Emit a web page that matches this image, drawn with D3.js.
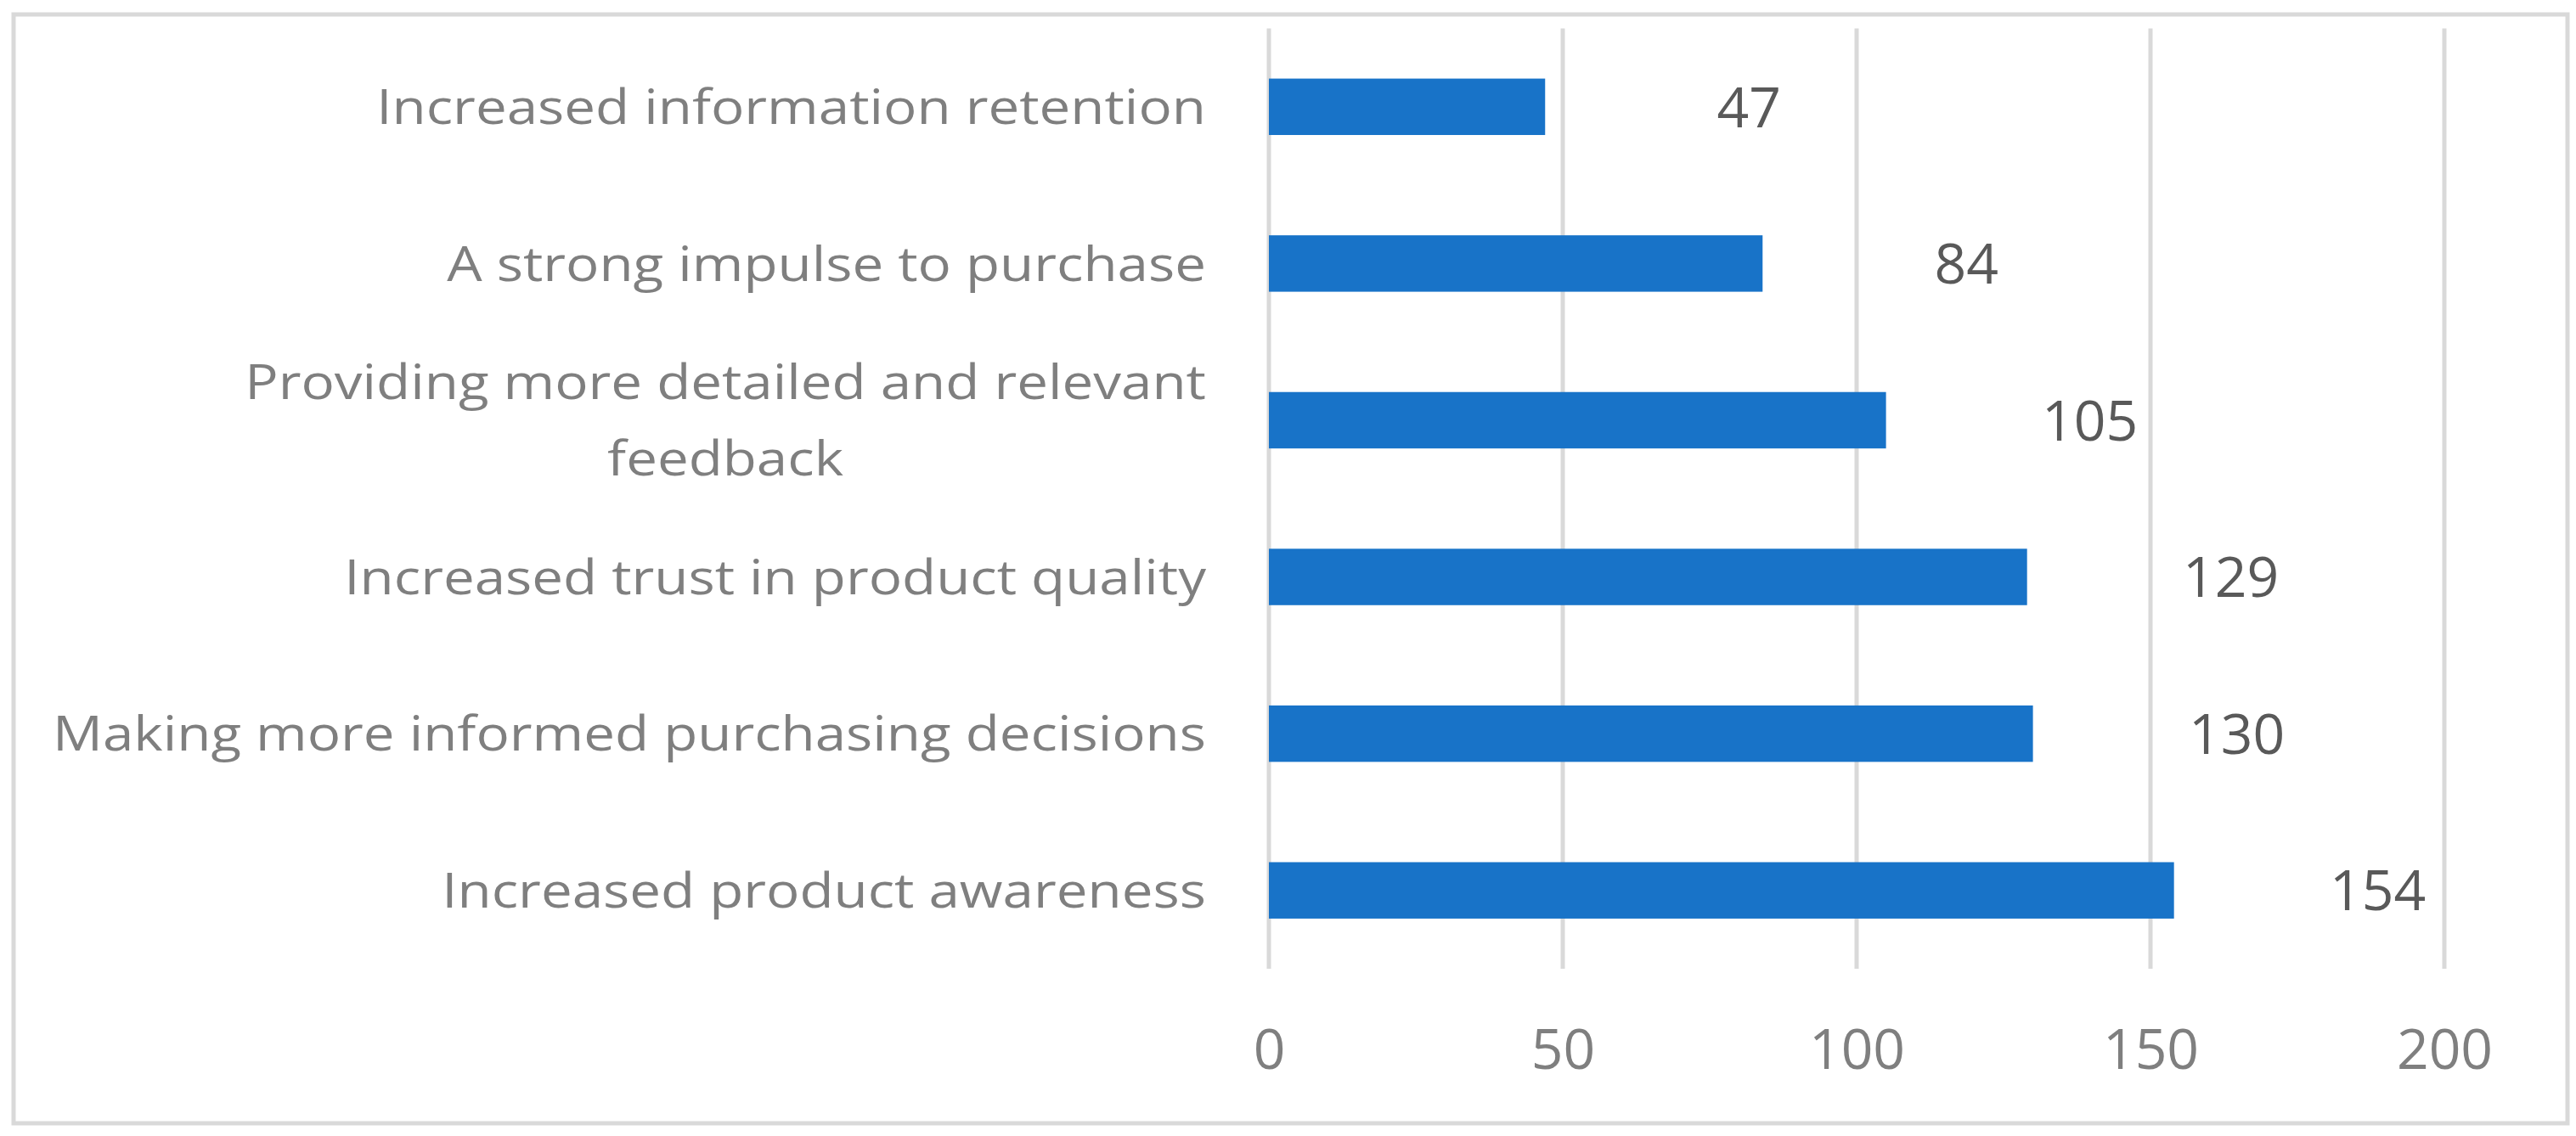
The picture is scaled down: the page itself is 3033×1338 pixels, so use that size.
<!DOCTYPE html>
<html lang="en">
<head>
    <meta charset="UTF-8">
    <title>Chart</title>
    <script src="https://d3js.org/d3.v7.min.js"></script>
    <style>
        body { margin: 0; background: #fff; }
    </style>
</head>
<body>
    <script>
        // data, top row first
        let categories = ["Increased information retention",
                          "A strong impulse to purchase",
                          "Providing more detailed and relevant feedback",
                          "Increased trust in product quality",
                          "Making more informed purchasing decisions",
                          "Increased product awareness"];
        let values = [47, 84, 105, 129, 130, 154];
        let xTicks = [0, 50, 100, 150, 200];

        let w = 3033;
        let h = 1338;
        let font = "'Open Sans', sans-serif";

        const svg = d3.select('body').append('svg').attr("width", w).attr("height", h)
                      .style("font-family", font);

        // outer frame
        svg.append('rect').attr('x', 16).attr('y', 17).attr('width', w - 26).attr('height', h - 32)
           .style('fill', '#fff').style('stroke', '#d9d9d9').style('stroke-width', 5);

        let xScale = d3.scaleLinear().domain([0, 200]).range([1494, 2878]);
        let yScale = d3.scaleBand().domain(categories).range([33.5, 1141])
                       .paddingInner(0.64).paddingOuter(0.32);

        // gridlines
        svg.selectAll('line.grid').data(xTicks).enter().append('line')
           .attr('class', 'grid')
           .attr('x1', d => xScale(d)).attr('x2', d => xScale(d))
           .attr('y1', 33.5).attr('y2', 1141)
           .style('stroke', '#d9d9d9').style('stroke-width', 5);

        // x axis labels
        let xAxis = d3.axisBottom(xScale).tickValues(xTicks).tickSize(0).tickPadding(0);
        let gx = svg.append('g').attr('transform', 'translate(0,1212)').call(xAxis);
        gx.select('.domain').remove();
        gx.selectAll('text').style('font-family', font).style('font-size', '66px')
          .style('fill', '#7f7f7f');

        // bars
        svg.selectAll('rect.bar').data(values).enter().append('rect')
           .attr('class', 'bar')
           .attr('x', xScale(0))
           .attr('y', (d, i) => yScale(categories[i]))
           .attr('width', d => xScale(d) - xScale(0))
           .attr('height', yScale.bandwidth())
           .style('fill', '#1873c8');

        // value labels
        svg.selectAll('text.val').data(values).enter().append('text')
           .attr('class', 'val')
           .attr('x', d => xScale(d) + 240)
           .attr('y', (d, i) => yScale(categories[i]) + yScale.bandwidth() / 2)
           .attr('dy', '0.36em')
           .attr('text-anchor', 'middle')
           .style('font-size', '66px').style('fill', '#595959')
           .text(d => d);

        // category labels (a bit wider than Open Sans), wrapped when too long
        let labelRight = 1420;
        let maxWidth = 1380;
        let lineGap = 90;
        let sx = 1.17;
        categories.forEach((c, i) => {
            let t = svg.append('text').style('font-size', '56px');
            let words = c.split(' ');
            let lines = [];
            let cur = [];
            words.forEach(word => {
                t.text(cur.concat([word]).join(' '));
                if (t.node().getComputedTextLength() * sx > maxWidth && cur.length) {
                    lines.push(cur.join(' '));
                    cur = [word];
                } else {
                    cur.push(word);
                }
            });
            lines.push(cur.join(' '));
            t.text(lines[0]);
            let firstW = t.node().getComputedTextLength() * sx;
            t.remove();

            let cy = yScale(c) + yScale.bandwidth() / 2;
            let top = cy - (lines.length - 1) * lineGap / 2;
            let cx = labelRight - firstW / 2;
            lines.forEach((ln, k) => {
                let ax = lines.length > 1 ? cx : labelRight;
                svg.append('g')
                   .attr('transform', `translate(${ax},${top + k * lineGap}) scale(${sx},1)`)
                   .append('text')
                   .attr('dy', '0.36em')
                   .attr('text-anchor', lines.length > 1 ? 'middle' : 'end')
                   .style('font-size', '56px').style('fill', '#7f7f7f')
                   .text(ln);
            });
        });
    </script>
</body>
</html>
